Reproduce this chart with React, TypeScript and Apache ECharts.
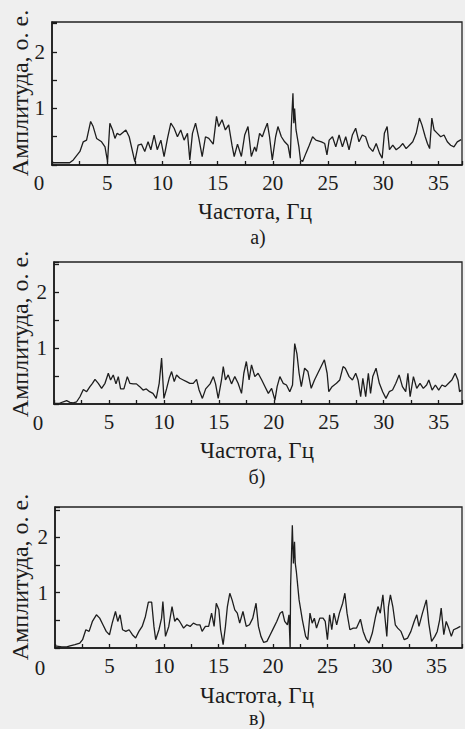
import React, { useEffect, useRef } from "react";
import * as echarts from "echarts";

// Panel а) — frequency (Hz), amplitude (r.u.)
const spectrumA: [number, number][] = [
  [0, 0.04], [1.6, 0.04], [1.93, 0.09], [2.53, 0.24], [2.83, 0.41], [3.13, 0.44], [3.5, 0.77], [3.73, 0.68],
  [4.04, 0.47], [4.49, 0.41], [4.8, 0.32], [5.03, 0.06], [5.24, 0.74], [5.49, 0.62], [5.7, 0.47], [5.9, 0.56],
  [6.15, 0.53], [6.69, 0.62], [6.99, 0.5], [7.5, 0.06], [7.8, 0.35], [8.1, 0.37], [8.4, 0.24], [8.7, 0.41],
  [8.95, 0.27], [9.25, 0.53], [9.53, 0.27], [9.86, 0.44], [10.15, 0.15], [10.46, 0.47], [10.76, 0.74], [11.06, 0.65],
  [11.36, 0.5], [11.66, 0.62], [11.96, 0.44], [12.27, 0.56], [12.48, 0.09], [12.72, 0.56], [13.0, 0.74], [13.3, 0.47],
  [13.6, 0.15], [13.9, 0.5], [14.2, 0.47], [14.6, 0.37], [14.9, 0.86], [15.1, 0.68], [15.4, 0.8], [15.7, 0.62],
  [16.0, 0.71], [16.3, 0.35], [16.5, 0.15], [16.8, 0.37], [17.15, 0.15], [17.45, 0.53], [17.75, 0.68], [18.05, 0.15],
  [18.35, 0.32], [18.5, 0.24], [18.8, 0.56], [19.05, 0.5], [19.26, 0.62], [19.5, 0.74], [19.7, 0.5], [19.95, 0.09],
  [20.25, 0.5], [20.46, 0.68], [20.77, 0.5], [21.07, 0.41], [21.37, 0.35], [21.58, 0.12], [21.67, 0.68], [21.82, 1.27],
  [21.9, 0.74], [21.97, 1.0], [22.1, 0.62], [22.36, 0.32], [22.5, 0.09], [22.7, 0.06], [23.0, 0.21], [23.3, 0.35],
  [23.6, 0.5], [23.9, 0.44], [24.4, 0.41], [24.7, 0.38], [24.9, 0.18], [25.1, 0.44], [25.4, 0.5], [25.7, 0.32],
  [26.0, 0.53], [26.3, 0.32], [26.6, 0.5], [26.9, 0.27], [27.2, 0.53], [27.5, 0.65], [27.8, 0.41], [28.1, 0.53],
  [28.4, 0.5], [28.7, 0.32], [29.05, 0.24], [29.36, 0.38], [29.66, 0.21], [29.9, 0.12], [30.1, 0.56], [30.35, 0.68],
  [30.56, 0.27], [30.86, 0.35], [31.17, 0.27], [31.5, 0.32], [31.77, 0.38], [32.07, 0.29], [32.37, 0.35], [32.67, 0.41],
  [32.98, 0.56], [33.27, 0.83], [33.5, 0.71], [33.8, 0.5], [34.0, 0.38], [34.2, 0.29], [34.4, 0.83], [34.6, 0.62],
  [34.9, 0.56], [35.2, 0.5], [35.5, 0.53], [35.8, 0.41], [36.1, 0.35], [36.4, 0.32], [36.7, 0.41], [37.05, 0.45],
];

// Panel б)
const spectrumB: [number, number][] = [
  [0, 0.01], [0.5, 0.01], [0.85, 0.04], [1.15, 0.06], [1.45, 0.03], [1.75, 0.02], [2.06, 0.04], [2.36, 0.13],
  [2.67, 0.26], [2.97, 0.22], [3.27, 0.31], [3.5, 0.37], [3.73, 0.44], [4.03, 0.37], [4.33, 0.28], [4.64, 0.37],
  [4.94, 0.55], [5.15, 0.43], [5.39, 0.52], [5.64, 0.36], [5.85, 0.49], [6.06, 0.27], [6.36, 0.27], [6.67, 0.49],
  [6.9, 0.37], [7.2, 0.36], [7.5, 0.36], [7.8, 0.31], [8.1, 0.25], [8.4, 0.27], [8.7, 0.22], [9.0, 0.19],
  [9.3, 0.1], [9.57, 0.37], [9.79, 0.82], [10.0, 0.1], [10.24, 0.27], [10.48, 0.46], [10.7, 0.58], [10.94, 0.4],
  [11.15, 0.52], [11.45, 0.46], [11.76, 0.43], [12.06, 0.4], [12.36, 0.37], [12.67, 0.37], [12.97, 0.44], [13.2, 0.25],
  [13.5, 0.1], [13.8, 0.27], [14.2, 0.36], [14.5, 0.49], [14.7, 0.36], [14.94, 0.1], [15.24, 0.43], [15.4, 0.67],
  [15.6, 0.43], [15.85, 0.52], [16.15, 0.36], [16.45, 0.49], [16.75, 0.37], [17.06, 0.19], [17.27, 0.55], [17.5, 0.76],
  [17.75, 0.43], [17.97, 0.7], [18.27, 0.49], [18.57, 0.55], [18.9, 0.43], [19.2, 0.31], [19.5, 0.19], [19.8, 0.28],
  [20.1, 0.07], [20.3, 0.31], [20.55, 0.49], [20.85, 0.37], [21.15, 0.34], [21.45, 0.22], [21.7, 0.34], [21.9, 1.08],
  [22.1, 0.9], [22.3, 0.55], [22.5, 0.31], [22.8, 0.64], [23.1, 0.58], [23.4, 0.28], [23.7, 0.43], [24.0, 0.55],
  [24.3, 0.67], [24.6, 0.79], [24.85, 0.55], [25.0, 0.22], [25.3, 0.31], [25.7, 0.37], [26.0, 0.43], [26.3, 0.67],
  [26.5, 0.64], [26.85, 0.49], [27.15, 0.43], [27.45, 0.55], [27.66, 0.43], [27.9, 0.13], [28.1, 0.46], [28.36, 0.13],
  [28.6, 0.55], [28.8, 0.19], [29.0, 0.49], [29.3, 0.64], [29.6, 0.37], [29.9, 0.22], [30.2, 0.1], [30.5, 0.22],
  [30.8, 0.25], [31.1, 0.37], [31.4, 0.52], [31.7, 0.31], [32.0, 0.22], [32.2, 0.55], [32.4, 0.13], [32.7, 0.49],
  [33.0, 0.28], [33.3, 0.37], [33.6, 0.28], [33.9, 0.34], [34.1, 0.43], [34.4, 0.25], [34.7, 0.34], [35.0, 0.25],
  [35.3, 0.34], [35.6, 0.31], [35.9, 0.37], [36.2, 0.43], [36.5, 0.55], [36.75, 0.43], [36.9, 0.22], [37.05, 0.25],
];

// Panel в)
const spectrumC: [number, number][] = [
  [0, 0.04], [0.62, 0.02], [1.08, 0.02], [1.38, 0.04], [1.83, 0.06], [2.28, 0.09], [2.53, 0.15], [2.83, 0.33],
  [3.13, 0.3], [3.43, 0.48], [3.8, 0.6], [4.1, 0.54], [4.4, 0.42], [4.7, 0.3], [5.0, 0.24], [5.25, 0.45],
  [5.55, 0.66], [5.76, 0.48], [5.97, 0.6], [6.2, 0.33], [6.5, 0.3], [6.8, 0.33], [7.1, 0.24], [7.4, 0.18],
  [7.7, 0.3], [8.0, 0.39], [8.3, 0.57], [8.57, 0.83], [8.87, 0.83], [9.08, 0.39], [9.24, 0.15], [9.54, 0.33],
  [9.78, 0.54], [9.9, 0.84], [10.14, 0.21], [10.44, 0.39], [10.74, 0.75], [10.99, 0.48], [11.2, 0.54], [11.44, 0.48],
  [11.8, 0.36], [12.1, 0.42], [12.4, 0.39], [12.7, 0.45], [13.0, 0.42], [13.3, 0.42], [13.5, 0.3], [13.8, 0.39],
  [14.1, 0.39], [14.37, 0.63], [14.6, 0.39], [14.8, 0.81], [15.04, 0.69], [15.2, 0.33], [15.43, 0.06], [15.64, 0.39],
  [15.82, 0.75], [16.04, 0.99], [16.25, 0.87], [16.5, 0.69], [16.73, 0.63], [16.95, 0.45], [17.25, 0.66], [17.55, 0.39],
  [17.85, 0.42], [18.15, 0.54], [18.45, 0.81], [18.67, 0.39], [18.9, 0.21], [19.15, 0.1], [19.45, 0.12], [19.75, 0.24],
  [20.05, 0.36], [20.35, 0.48], [20.66, 0.63], [20.87, 0.66], [21.08, 0.48], [21.33, 0.42], [21.47, 0.6], [21.58, 0.0],
  [21.62, 1.11], [21.78, 2.22], [21.88, 1.53], [21.98, 1.92], [22.05, 1.53], [22.15, 1.38], [22.4, 0.87], [22.7, 0.51],
  [23.0, 0.21], [23.2, 0.15], [23.4, 0.63], [23.6, 0.45], [23.8, 0.54], [24.0, 0.36], [24.3, 0.54], [24.6, 0.54],
  [24.8, 0.48], [25.0, 0.15], [25.2, 0.6], [25.4, 0.33], [25.6, 0.63], [25.85, 0.42], [26.1, 0.63], [26.4, 0.81],
  [26.6, 0.99], [26.8, 0.63], [27.06, 0.33], [27.37, 0.36], [27.67, 0.36], [28.03, 0.52], [28.28, 0.3], [28.57, 0.15],
  [28.82, 0.09], [29.12, 0.27], [29.42, 0.57], [29.64, 0.75], [29.85, 0.63], [30.09, 0.96], [30.3, 0.51], [30.45, 0.21],
  [30.6, 0.75], [30.78, 0.96], [31.0, 0.75], [31.23, 0.42], [31.45, 0.36], [31.75, 0.3], [32.05, 0.15], [32.36, 0.18],
  [32.66, 0.3], [32.96, 0.48], [33.2, 0.6], [33.4, 0.39], [33.72, 0.63], [34.08, 0.87], [34.3, 0.45], [34.56, 0.12],
  [34.86, 0.21], [35.08, 0.3], [35.3, 0.51], [35.44, 0.72], [35.68, 0.24], [35.9, 0.48], [36.13, 0.36], [36.37, 0.21],
  [36.58, 0.33], [36.9, 0.36], [37.2, 0.39],
];

const panelLabels = ["а)", "б)", "в)"];
const xTitle = "Частота, Гц";
const yTitle = "Амплитуда, о. е.";
const xMaxes = [37.13, 37.12, 37.35];
const yMaxes = [2.53, 2.54, 2.55];

const FONT = "Liberation Serif";
const INK = "#1c1c1c";

export default function App() {
  const ref = useRef<HTMLDivElement>(null);

  useEffect(() => {
    if (!ref.current) return;
    const chart = echarts.init(ref.current, undefined, { renderer: "svg" });

    const series = [spectrumA, spectrumB, spectrumC];
    const grids = [
      { left: 52, top: 22, width: 411, height: 143 },
      { left: 54, top: 262, width: 409, height: 142 },
      { left: 55, top: 507, width: 412, height: 141 },
    ];
    const zeroPos = [
      [39, 183],
      [38, 423],
      [40, 668],
    ];
    const xTitlePos = [
      [255, 211],
      [257, 450],
      [257, 695],
    ];
    const subPos = [
      [258, 237],
      [257, 477],
      [257, 718],
    ];
    const yTitlePos = [
      [20, 93],
      [20, 334],
      [20, 577],
    ];

    const graphic: any[] = [];
    for (let i = 0; i < 3; i++) {
      graphic.push({
        type: "text",
        x: zeroPos[i][0],
        y: zeroPos[i][1],
        style: { text: "0", fontFamily: FONT, fontSize: 21, fill: INK, align: "center", verticalAlign: "middle" },
      });
      graphic.push({
        type: "text",
        x: xTitlePos[i][0],
        y: xTitlePos[i][1],
        style: { text: xTitle, fontFamily: FONT, fontSize: 23, fill: INK, align: "center", verticalAlign: "middle" },
      });
      graphic.push({
        type: "text",
        x: subPos[i][0],
        y: subPos[i][1],
        style: { text: panelLabels[i], fontFamily: FONT, fontSize: 20, fill: INK, align: "center", verticalAlign: "middle" },
      });
      graphic.push({
        type: "text",
        x: yTitlePos[i][0],
        y: yTitlePos[i][1],
        rotation: Math.PI / 2,
        style: { text: yTitle, fontFamily: FONT, fontSize: 24, fill: INK, align: "center", verticalAlign: "middle" },
      });
    }

    const option: any = {
      animation: false,
      backgroundColor: "#efefef",
      textStyle: { fontFamily: FONT },
      graphic,
      grid: grids.map((g) => ({
        ...g,
        show: true,
        borderColor: "#222",
        borderWidth: 1.3,
        backgroundColor: "transparent",
        containLabel: false,
      })),
      xAxis: grids.map((_, i) => ({
        type: "value",
        gridIndex: i,
        min: 0,
        max: xMaxes[i],
        interval: 2.5,
        axisLine: { show: true, lineStyle: { color: "#1a1a1a", width: 1.6 } },
        axisTick: { show: true, inside: true, length: 4, lineStyle: { color: "#1a1a1a", width: 1.3 } },
        axisLabel: {
          show: true,
          margin: 7,
          color: INK,
          fontFamily: FONT,
          fontSize: 21,
          formatter: (v: number) => (v > 0 && Math.abs(v % 5) < 1e-6 ? String(Math.round(v)) : ""),
        },
        splitLine: { show: false },
      })),
      yAxis: grids.map((_, i) => ({
        type: "value",
        gridIndex: i,
        min: 0,
        max: yMaxes[i],
        interval: 0.5,
        axisLine: { show: true, lineStyle: { color: "#1a1a1a", width: 1.6 } },
        axisTick: { show: true, inside: true, length: 5, lineStyle: { color: "#1a1a1a", width: 1.3 } },
        axisLabel: {
          show: true,
          margin: 7,
          color: INK,
          fontFamily: FONT,
          fontSize: 21,
          formatter: (v: number) => (v > 0 && Math.abs(v - Math.round(v)) < 1e-6 ? String(Math.round(v)) : ""),
        },
        splitLine: { show: false },
      })),
      series: series.map((d, i) => ({
        type: "line",
        xAxisIndex: i,
        yAxisIndex: i,
        data: d,
        showSymbol: false,
        symbol: "none",
        clip: true,
        lineStyle: { color: "#1e1e1e", width: 1.3 },
      })),
    };

    chart.setOption(option);
    return () => chart.dispose();
  }, []);

  return (
    <div
      ref={ref}
      style={{ position: "fixed", left: 0, top: 0, width: 465, height: 729, background: "#efefef" }}
    />
  );
}
